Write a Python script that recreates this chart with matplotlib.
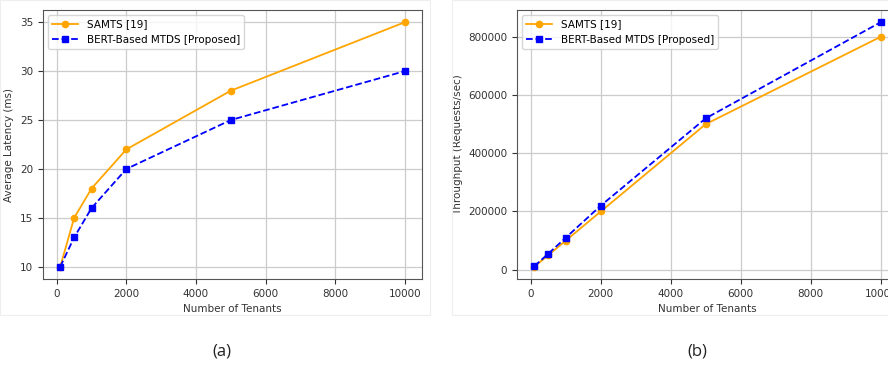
import matplotlib.pyplot as plt
from matplotlib.patches import Rectangle

tenants = [100, 500, 1000, 2000, 5000, 10000]
lat_samts = [10, 15, 18, 22, 28, 35]
lat_bert = [10, 13, 16, 20, 25, 30]
thr_samts = [10000, 50000, 100000, 200000, 500000, 800000]
thr_bert = [12000, 55000, 110000, 220000, 520000, 850000]

lbl_samts = 'SAMTS [19]'
lbl_bert = 'BERT-Based MTDS [Proposed]'

plt.rcParams['font.family'] = ['DejaVu Sans']
plt.rcParams['font.size'] = 7.5

fig = plt.figure(figsize=(8.88, 3.69), dpi=100)

# faint panel frames of the original screenshots
fig.patches.append(Rectangle((0.0, 1 - 315 / 369), 430 / 888, 315 / 369,
                             transform=fig.transFigure, fill=False,
                             ec='#eeeeee', lw=0.8))
fig.patches.append(Rectangle((452 / 888, 1 - 315 / 369), 436 / 888, 315 / 369,
                             transform=fig.transFigure, fill=False,
                             ec='#eeeeee', lw=0.8))

ax1 = fig.add_axes([43 / 888, 1 - 279 / 369, 379 / 888, 269 / 369])
ax2 = fig.add_axes([517 / 888, 1 - 279 / 369, 381 / 888, 269 / 369])

for ax, ys, yb, ylab in [(ax1, lat_samts, lat_bert, 'Average Latency (ms)'),
                         (ax2, thr_samts, thr_bert, 'Throughput (Requests/sec)')]:
    ax.plot(tenants, ys, '-o', color='orange', lw=1.3, ms=4.5, label=lbl_samts)
    ax.plot(tenants, yb, '--s', color='blue', lw=1.3, ms=4.5, label=lbl_bert)
    ax.set_xlabel('Number of Tenants', color='#333333')
    ax.set_ylabel(ylab, color='#333333')
    ax.grid(True, color='#cccccc', lw=0.9)
    ax.set_xticks([0, 2000, 4000, 6000, 8000, 10000])
    ax.tick_params(colors='#333333', labelsize=7.5)
    for s in ax.spines.values():
        s.set_color('#555555')
    ax.legend(loc='upper left', fontsize=7.5, handlelength=2.5)

fig.text(222 / 888, 1 - 352 / 369, '(a)', ha='center', va='center',
         fontsize=12, family='Open Sans', color='#222222')
fig.text(697 / 888, 1 - 352 / 369, '(b)', ha='center', va='center',
         fontsize=12, family='Open Sans', color='#222222')

fig.savefig('out.png', dpi=100)
